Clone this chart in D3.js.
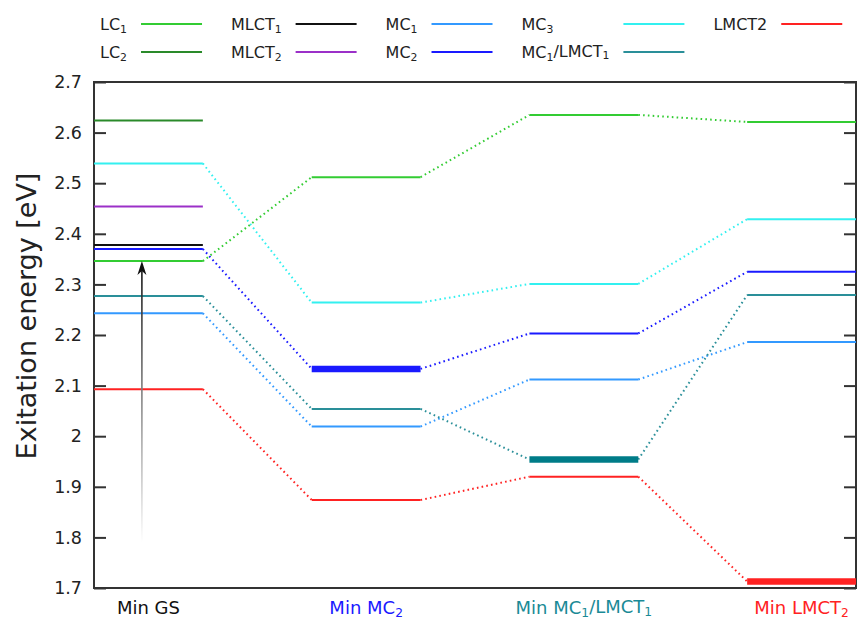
<!DOCTYPE html>
<html lang="en">
<head>
    <meta charset="UTF-8">
    <title>Excitation energy levels</title>
    <script src="https://d3js.org/d3.v7.min.js"></script>
    <style>
        body {
            margin: 0;
            background: #fff;
        }
        svg text {
            font-family: 'DejaVu Sans', sans-serif;
            fill: #222;
        }
        .level {
            stroke-width: 2;
        }
        .level.min {
            stroke-width: 6.5;
        }
        .link {
            stroke-width: 2;
            stroke-dasharray: 1.6 3.2;
            fill: none;
        }
    </style>
</head>
<body>
    <svg id="chart" width="857" height="621"></svg>

    <script>
        // geometries along the x axis (the "Min ..." points)
        const geometries = ["Min GS", "Min MC_2", "Min MC_1/LMCT_1", "Min LMCT_2"];

        // states, in legend order (column by column)
        const states = ["LC_1", "LC_2", "MLCT_1", "MLCT_2", "MC_1", "MC_2", "MC_3", "MC_1/LMCT_1", "LMCT2"];
        const colors = ["#33cc33", "#2a8a2a", "#111111", "#9b30c8", "#3399ff", "#1a1aff", "#33f0f0", "#2a8f99", "#ff2222"];

        // excitation energies [eV] at each geometry (null = not computed)
        const lc1      = [2.346, 2.512, 2.635, 2.621];
        const lc2      = [2.624, null, null, null];
        const mlct1    = [2.378, null, null, null];
        const mlct2    = [2.454, null, null, null];
        const mc1      = [2.243, 2.019, 2.112, 2.186];
        const mc2      = [2.370, 2.133, 2.203, 2.325];
        const mc3      = [2.539, 2.264, 2.301, 2.429];
        const mc1lmct1 = [2.277, 2.054, 1.954, 2.279];
        const lmct2    = [2.093, 1.874, 1.920, 1.713];
        const energies = [lc1, lc2, mlct1, mlct2, mc1, mc2, mc3, mc1lmct1, lmct2];

        // which state is minimised at each geometry (-1 = ground state)
        const minimumOf = [-1, 5, 7, 8];

        const yTicks = [1.7, 1.8, 1.9, 2.0, 2.1, 2.2, 2.3, 2.4, 2.5, 2.6, 2.7];

        // vertical excitation arrow at the GS geometry
        const arrowFrom = 1.79;
        const arrowTo = lc1[0];

        const svg = d3.select("#chart");
        const m = { left: 94, right: 856, top: 82, bottom: 588 };

        const x = d3.scaleLinear().domain([0, 2 * geometries.length - 1]).range([m.left, m.right]);
        const y = d3.scaleLinear().domain([1.7, 2.7]).range([m.bottom, m.top]);

        // writes "MC_1/LMCT_1" style labels with subscripts
        function richText(sel, str) {
            const parts = str.split(/_(\d)/);
            let shifted = false;
            parts.forEach((p, i) => {
                if (p === "") return;
                const sub = i % 2 === 1;
                const t = sel.append("tspan").text(p);
                if (sub && !shifted) { t.attr("dy", "0.25em"); shifted = true; }
                if (!sub && shifted) { t.attr("dy", "-0.25em"); shifted = false; }
                if (sub) t.attr("font-size", "0.68em");
            });
        }

        // axes (ticks inwards, mirrored on the right)
        const fmt = d => (+d.toFixed(1)).toString();
        svg.append("g")
            .attr("transform", `translate(${m.left},0)`)
            .call(d3.axisLeft(y).tickValues(yTicks).tickSize(-12).tickPadding(12).tickFormat(fmt))
            .call(g => g.select(".domain").remove())
            .call(g => g.selectAll("line").attr("stroke", "#333").attr("stroke-width", 2))
            .call(g => g.selectAll("text").attr("font-size", 17.5).attr("fill", "#222")
                .style("font-family", "'DejaVu Sans', sans-serif"));

        svg.append("g")
            .attr("transform", `translate(${m.right},0)`)
            .call(d3.axisRight(y).tickValues(yTicks).tickSize(-12).tickFormat(""))
            .call(g => g.select(".domain").remove())
            .call(g => g.selectAll("line").attr("stroke", "#333").attr("stroke-width", 2));

        svg.append("rect")
            .attr("x", m.left).attr("y", m.top)
            .attr("width", m.right - m.left).attr("height", m.bottom - m.top)
            .attr("fill", "none").attr("stroke", "#333").attr("stroke-width", 2);

        svg.append("text")
            .attr("transform", `translate(36,${(m.top + m.bottom) / 2 - 19}) rotate(-90)`)
            .attr("text-anchor", "middle")
            .attr("font-size", 27)
            .text("Exitation energy [eV]");

        // dotted connectors between geometries
        energies.forEach((vals, s) => {
            for (let i = 0; i < vals.length - 1; i++) {
                if (vals[i] == null || vals[i + 1] == null) continue;
                svg.append("line")
                    .attr("class", "link")
                    .attr("x1", x(2 * i + 1)).attr("y1", y(vals[i]))
                    .attr("x2", x(2 * i + 2)).attr("y2", y(vals[i + 1]))
                    .attr("stroke", colors[s]);
            }
        });

        // energy levels
        energies.forEach((vals, s) => {
            vals.forEach((v, i) => {
                if (v == null) return;
                const isMin = minimumOf[i] === s;
                svg.append("line")
                    .attr("class", isMin ? "level min" : "level")
                    .attr("x1", x(2 * i)).attr("x2", x(2 * i + 1))
                    .attr("y1", y(v)).attr("y2", y(v))
                    .attr("stroke", isMin && s === 7 ? "#007c88" : colors[s]);
            });
        });

        // excitation arrow, fading out at the bottom
        const defs = svg.append("defs");
        const grad = defs.append("linearGradient")
            .attr("id", "fade")
            .attr("gradientUnits", "userSpaceOnUse")
            .attr("x1", 0).attr("x2", 0)
            .attr("y1", y(arrowTo)).attr("y2", y(arrowFrom));
        grad.append("stop").attr("offset", 0).attr("stop-color", "#111");
        grad.append("stop").attr("offset", 1).attr("stop-color", "#fff");

        const ax = x(0.44);
        svg.append("line")
            .attr("x1", ax).attr("x2", ax)
            .attr("y1", y(arrowFrom)).attr("y2", y(arrowTo) + 8)
            .attr("stroke", "url(#fade)").attr("stroke-width", 1.6);
        svg.append("path")
            .attr("d", `M${ax},${y(arrowTo)} L${ax - 4.5},${y(arrowTo) + 14} L${ax},${y(arrowTo) + 10} L${ax + 4.5},${y(arrowTo) + 14} Z`)
            .attr("fill", "#111");

        // geometry labels under the plot
        geometries.forEach((g, i) => {
            const k = minimumOf[i];
            const t = svg.append("text")
                .attr("x", x(2 * i + 0.5))
                .attr("y", 614)
                .attr("text-anchor", "middle")
                .attr("font-size", 18)
                .style("fill", k < 0 ? "#111" : (k === 7 ? "#1a8a96" : colors[k]));
            richText(t, g);
        });

        // legend: two rows, columns laid out left to right
        let lx = 100;
        for (let c = 0; c < Math.ceil(states.length / 2); c++) {
            const items = [2 * c, 2 * c + 1].filter(k => k < states.length);
            let w = 0;
            items.forEach((k, r) => {
                const t = svg.append("text")
                    .attr("x", lx).attr("y", 30 + r * 28)
                    .attr("font-size", 16);
                richText(t, states[k]);
                w = Math.max(w, t.node().getComputedTextLength());
            });
            const l1 = lx + w + 14;
            items.forEach((k, r) => {
                svg.append("line")
                    .attr("x1", l1).attr("x2", l1 + 61)
                    .attr("y1", 24 + r * 28).attr("y2", 24 + r * 28)
                    .attr("stroke", colors[k]).attr("stroke-width", 2);
            });
            lx = l1 + 61 + 29;
        }
    </script>
</body>
</html>
